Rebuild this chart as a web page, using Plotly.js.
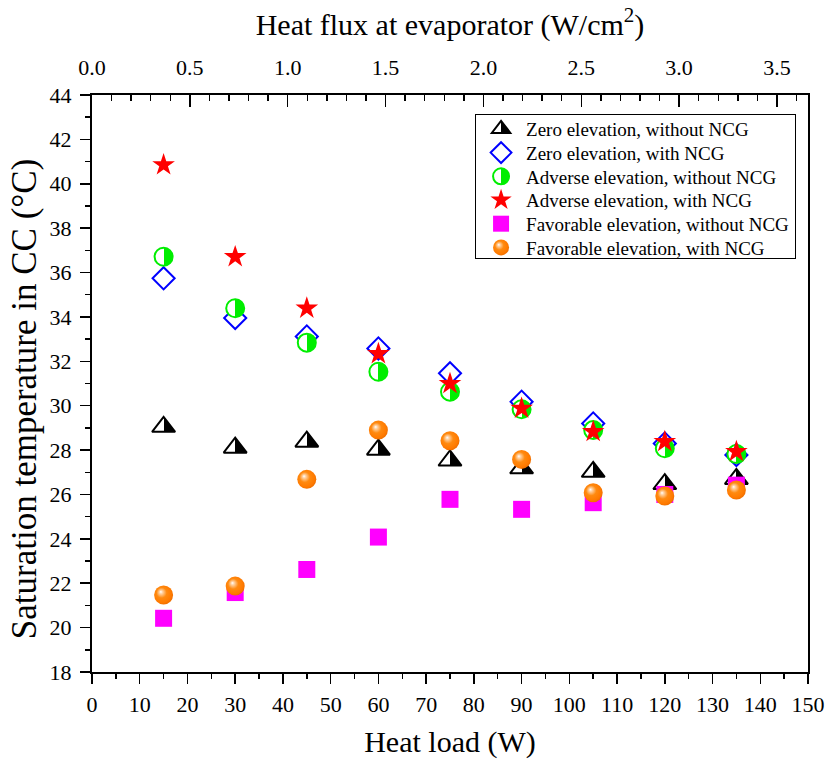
<!DOCTYPE html>
<html>
<head>
<meta charset="utf-8">
<script src="https://cdn.plot.ly/plotly-3.0.1.min.js"></script>
<style>html,body{margin:0;padding:0;background:#fff;}</style>
</head>
<body>
<div id="chart" style="width:828px;height:764px;"></div>
<script>
// Heat load (W)
const heatLoad = [15, 30, 45, 60, 75, 90, 105, 120, 135];
// Saturation temperature in CC (°C)
const zeroWithoutNCG = [29.05, 28.11, 28.38, 28.02, 27.53, 27.18, 27.02, 26.47, 26.70];
const zeroWithNCG = [35.74, 33.95, 33.12, 32.58, 31.46, 30.18, 29.20, 28.30, 27.78];
const adverseWithoutNCG = [36.71, 34.39, 32.84, 31.53, 30.63, 29.84, 28.90, 28.08, 27.82];
const adverseWithNCG = [40.85, 36.71, 34.39, 32.34, 30.99, 29.88, 28.83, 28.38, 27.93];
const favorableWithoutNCG = [20.42, 21.58, 22.62, 24.08, 25.78, 25.33, 25.63, 26.00, 26.42];
const favorableWithNCG = [21.47, 21.87, 26.68, 28.90, 28.42, 27.58, 26.08, 25.93, 26.20];
const seriesNames = [
  'Zero elevation, without NCG',
  'Zero elevation, with NCG',
  'Adverse elevation, without NCG',
  'Adverse elevation, with NCG',
  'Favorable elevation, without NCG',
  'Favorable elevation, with NCG'
];
const evaporatorArea = 41; // cm², relates top axis (heat flux) to bottom axis (heat load)
const heatFlux = heatLoad.map(q => q / evaporatorArea);

const FONT = 'Liberation Serif';

const traces = [
  {x: heatLoad, y: zeroWithoutNCG, name: seriesNames[0], mode: 'markers', type: 'scatter',
   marker: {symbol: 'triangle-up', size: 20, color: '#ffffff',
            gradient: {type: 'horizontal', color: '#000000'},
            line: {color: '#000000', width: 2}}},
  {x: heatLoad, y: zeroWithNCG, name: seriesNames[1], mode: 'markers', type: 'scatter',
   marker: {symbol: 'diamond-open', size: 17, color: '#0000ff', line: {color: '#0000ff', width: 2}}},
  {x: heatLoad, y: adverseWithoutNCG, name: seriesNames[2], mode: 'markers', type: 'scatter',
   marker: {symbol: 'circle', size: 18, color: '#ffffff',
            gradient: {type: 'horizontal', color: '#00ee00'},
            line: {color: '#00ee00', width: 2}}},
  {x: heatLoad, y: adverseWithNCG, name: seriesNames[3], mode: 'markers', type: 'scatter',
   marker: {symbol: 'star', size: 17, color: '#ff0000', line: {width: 0}}},
  {x: heatLoad, y: favorableWithoutNCG, name: seriesNames[4], mode: 'markers', type: 'scatter',
   marker: {symbol: 'square', size: 17, color: '#ff00ff', line: {width: 0}}},
  {x: heatLoad, y: favorableWithNCG, name: seriesNames[5], mode: 'markers', type: 'scatter',
   marker: {symbol: 'circle', size: 19, color: '#ff8000',
            gradient: {type: 'radial', color: '#ffffff'},
            line: {width: 0}}},
  // invisible trace that carries the top (heat flux) axis
  {x: heatFlux, y: zeroWithoutNCG, xaxis: 'x2', yaxis: 'y', mode: 'markers', type: 'scatter',
   showlegend: false, hoverinfo: 'skip', marker: {opacity: 0, size: 1}}
];

function tf(size, fam) { return {family: fam || FONT, size: size, color: '#000'}; }

const layout = {
  width: 828, height: 764,
  margin: {l: 92, r: 20, t: 95, b: 92, pad: 0},
  paper_bgcolor: '#fff', plot_bgcolor: '#fff',
  font: {family: FONT, color: '#000', size: 22},
  showlegend: true,
  legend: {
    x: 0.535, y: 0.967, xanchor: 'left', yanchor: 'top',
    bordercolor: '#000', borderwidth: 1, bgcolor: '#fff',
    font: tf(19),
    itemwidth: 40, tracegroupgap: 0
  },
  xaxis: {
    range: [0, 150], tick0: 0, dtick: 10,
    showline: true, linewidth: 2, linecolor: '#000', showgrid: false, zeroline: false,
    ticks: 'outside', ticklen: 10, tickwidth: 1.5, tickcolor: '#000', ticklabelstandoff: 2,
    tickfont: tf(22), automargin: false,
    minor: {dtick: 5, ticks: 'outside', ticklen: 5, tickwidth: 1.5, tickcolor: '#000', showgrid: false},
    title: {text: 'Heat load (W)', font: tf(30), standoff: 15}
  },
  xaxis2: {
    overlaying: 'x', side: 'top', anchor: 'y',
    range: [0, 150 / evaporatorArea], tick0: 0, dtick: 0.5, tickformat: '.1f',
    showline: true, linewidth: 2, linecolor: '#000', showgrid: false, zeroline: false,
    ticks: 'inside', ticklen: 12, tickwidth: 1.5, tickcolor: '#000', ticklabelstandoff: 9,
    tickfont: tf(22), automargin: false,
    minor: {dtick: 0.1, ticks: 'inside', ticklen: 6, tickwidth: 1.5, tickcolor: '#000', showgrid: false},
    title: {text: 'Heat flux at evaporator (W/cm<sup>2</sup>)', font: tf(30), standoff: 11}
  },
  yaxis: {
    range: [18, 44], tick0: 18, dtick: 2, mirror: true,
    showline: true, linewidth: 2, linecolor: '#000', showgrid: false, zeroline: false,
    ticks: 'outside', ticklen: 10, tickwidth: 1.5, tickcolor: '#000', ticklabelstandoff: 4,
    tickfont: tf(22), automargin: false,
    minor: {dtick: 1, ticks: 'outside', ticklen: 5, tickwidth: 1.5, tickcolor: '#000', showgrid: false}
  },
  annotations: [{
    text: 'Saturation temperature in CC (°C)', textangle: -90,
    xref: 'paper', yref: 'paper', x: -0.094, y: 0.474,
    xanchor: 'center', yanchor: 'middle', showarrow: false,
    font: tf(35)
  }]
};

function setStop(stop, offset, color) {
  stop.setAttribute('offset', offset);
  stop.setAttribute('stop-color', color);
  stop.style.stopColor = color;
  stop.setAttribute('stop-opacity', 1);
  stop.style.stopOpacity = 1;
}

function restyleGradients() {
  document.querySelectorAll('linearGradient').forEach(g => {
    const stops = g.querySelectorAll('stop');
    if (stops.length === 2) {
      const a = stops[0].cloneNode(true);
      const b = stops[1].cloneNode(true);
      a.setAttribute('offset', '50%');
      b.setAttribute('offset', '50%');
      g.insertBefore(a, stops[1]);
      g.insertBefore(b, stops[1]);
    }
  });
  document.querySelectorAll('radialGradient').forEach(g => {
    while (g.firstChild) g.removeChild(g.firstChild);
    g.setAttribute('fx', '35%');
    g.setAttribute('fy', '33%');
    g.setAttribute('cx', '45%');
    g.setAttribute('cy', '45%');
    g.setAttribute('r', '60%');
    const ns = 'http://www.w3.org/2000/svg';
    [['0%', '#ffffff'], ['14%', '#ffd3a6'], ['45%', '#ff8a10'], ['80%', '#ff7a00'], ['100%', '#e86a00']].forEach(s => {
      const st = document.createElementNS(ns, 'stop');
      setStop(st, s[0], s[1]);
      g.appendChild(st);
    });
  });
}

// compact legend rows to the reference spacing
function compactLegend() {
  const items = document.querySelectorAll('.legend .traces');
  const rowGap = 23.7;
  let y0 = null;
  items.forEach((it, i) => {
    const m = /translate\(([-\d.]+)[ ,]+([-\d.]+)\)/.exec(it.getAttribute('transform') || '');
    if (!m) return;
    if (y0 === null) y0 = parseFloat(m[2]) - 5;
    it.setAttribute('transform', 'translate(' + m[1] + ',' + (y0 + i * rowGap) + ')');
  });
  const bg = document.querySelector('.legend rect.bg');
  if (bg && items.length) bg.setAttribute('height', '144');
}

Plotly.newPlot('chart', traces, layout, {displayModeBar: false, staticPlot: true})
  .then(() => { restyleGradients(); compactLegend(); });
</script>
</body>
</html>
